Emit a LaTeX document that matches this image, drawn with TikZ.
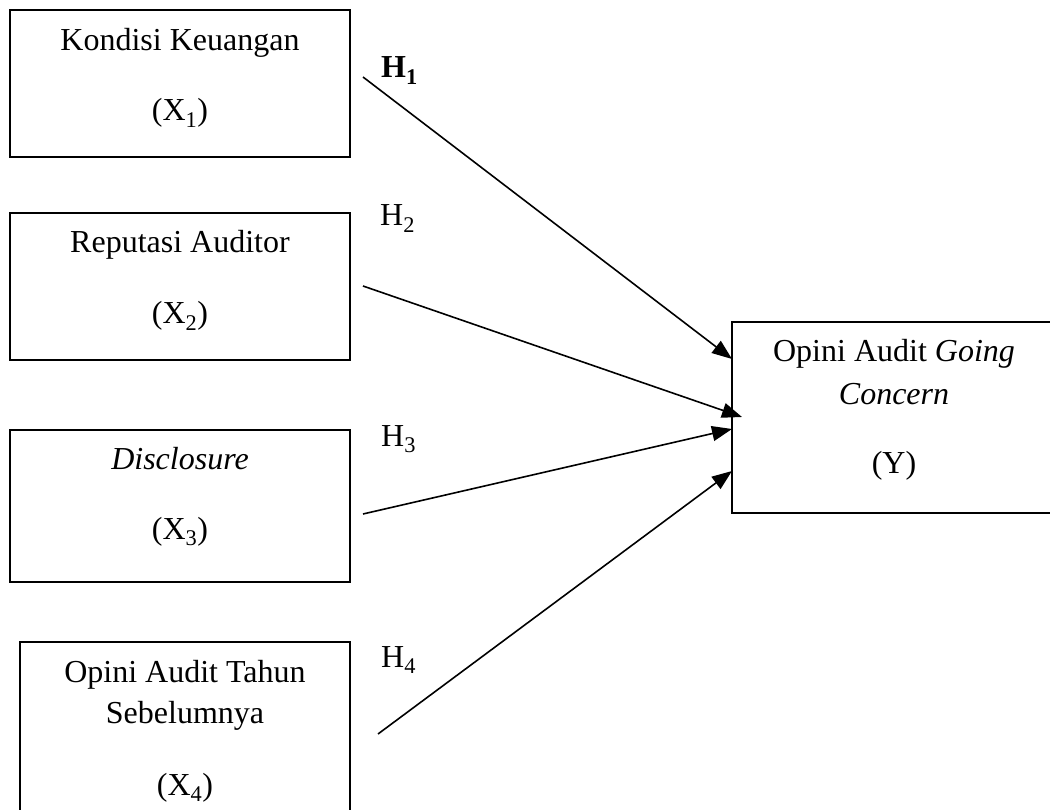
\documentclass[tikz,border=0pt]{standalone}
\usepackage{fontspec}
\setmainfont{Liberation Serif}
\usetikzlibrary{arrows.meta}
\begin{document}
\begin{tikzpicture}[x=1pt,y=-1pt,
  box/.style={draw,line width=2pt,inner sep=0pt,outer sep=0pt},
  txt/.style={anchor=base,inner sep=0pt,font=\fontsize{32}{40}\selectfont},
  hlab/.style={anchor=base west,inner sep=0pt,font=\fontsize{32}{40}\selectfont},
  link/.style={line width=1.6pt,-{Triangle[length=20pt,width=15pt]}}]
\clip (0,0) rectangle (1050,810);
\fill[white] (0,0) rectangle (1050,810);
% boxes
\node[box,minimum width=340pt,minimum height=147pt] (x1) at (180,83.5) {};
\node[box,minimum width=340pt,minimum height=147pt] (x2) at (180,286.5) {};
\node[box,minimum width=340pt,minimum height=152pt] (x3) at (180,506) {};
\node[box,minimum width=330pt,minimum height=188pt] (x4) at (185,736) {};
\node[box,minimum width=326pt,minimum height=191pt] (y) at (895,417.5) {};
% texts
\node[txt] (x1a) at (180,51) {Kondisi Keuangan};
\node[txt] (x1b) at (180,121) {(X\textsubscript{1})};
\node[txt] (x2a) at (180,253) {Reputasi Auditor};
\node[txt] (x2b) at (180,324) {(X\textsubscript{2})};
\node[txt] (x3a) at (180,469) {\textit{Disclosure}};
\node[txt] (x3b) at (180,539) {(X\textsubscript{3})};
\node[txt] (x4a) at (185,682) {Opini Audit Tahun};
\node[txt] (x4b) at (185,723) {Sebelumnya};
\node[txt] (x4c) at (185,795) {(X\textsubscript{4})};
\node[txt] (ya) at (894,362) {Opini Audit \textit{Going}};
\node[txt] (yb) at (894,404) {\textit{Concern}};
\node[txt] (yc) at (894,473) {(Y)};
% hypothesis labels
\node[hlab] (h1) at (381,78) {\textbf{H\textsubscript{1}}};
\node[hlab] (h2) at (380,226) {H\textsubscript{2}};
\node[hlab] (h3) at (381,446) {H\textsubscript{3}};
\node[hlab] (h4) at (381,667) {H\textsubscript{4}};
% connector ends
\coordinate (s1) at (363,77);
\coordinate (s2) at (363,286);
\coordinate (s3) at (363,514);
\coordinate (s4) at (378,734);
\coordinate (e1) at (732,359);
\coordinate (e2) at (742,417);
\coordinate (e3) at (732,429);
\coordinate (e4) at (732,471);
\draw[link] (s1) -- (e1);
\draw[link] (s2) -- (e2);
\draw[link] (s3) -- (e3);
\draw[link] (s4) -- (e4);
\end{tikzpicture}
\end{document}
